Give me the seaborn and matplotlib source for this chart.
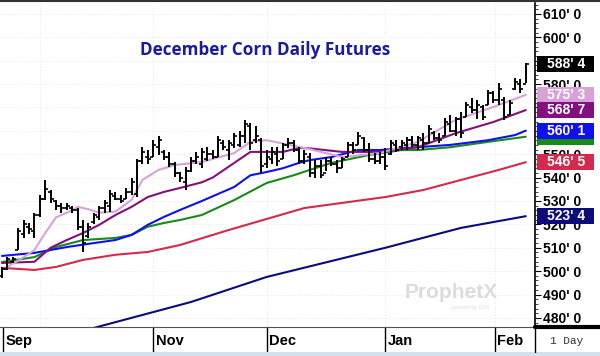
import numpy as np
import pandas as pd
import matplotlib
matplotlib.use("Agg")
import matplotlib.pyplot as plt
import matplotlib.transforms as mtransforms
from matplotlib.patches import Rectangle
from matplotlib.lines import Line2D
from matplotlib.ticker import MultipleLocator
import seaborn as sns

# ---------------- data ----------------
high = [501.8, 506, 506, 518.5, 522, 520.5, 525, 532.5, 539, 534.7,
        530.5, 529, 529, 528, 527, 522, 520.5, 525, 528, 530.5,
        534.7, 534, 532.6, 535.6, 540, 548, 553, 551.8, 556, 558,
        551.8, 551, 546.7, 542.5, 544.6, 549, 551, 552.7, 553, 552,
        558, 556, 556, 559, 560, 564.7, 563.4, 562, 557, 552,
        553, 553, 555, 557, 556, 553, 552, 550.5, 547.5, 547.5,
        549, 549, 547.5, 549, 555.3, 555.3, 559.6, 557.4, 555, 550.5,
        551, 552.7, 556, 556, 556, 557.4, 558, 558, 559, 562.5,
        560, 559, 565.5, 567, 566, 568, 572.4, 574, 573, 571,
        577.5, 577, 580.5, 574.5, 573, 582.6, 582, 589]
low = [497.1, 500.5, 503.5, 509, 514, 516, 514, 523, 530.5, 529,
       526, 525, 526, 525, 517.5, 508, 514, 520, 522, 525,
       525.4, 530.5, 529, 531, 532.6, 531.7, 546, 546, 549, 549.7,
       547.5, 544.6, 540.3, 538, 534.7, 542.5, 546, 544, 547, 548,
       548.7, 552, 547.5, 552.7, 553, 555, 552, 555, 542, 544,
       546, 545, 548, 552.7, 551, 546, 546, 540.3, 540, 540,
       543, 545, 542, 544, 549, 550, 554, 551, 546.7, 546,
       546, 543.3, 549.7, 551, 552, 552, 553, 552, 552, 555,
       556, 555, 558, 559.5, 558, 557, 566, 567.7, 565, 564.7,
       571, 572, 571, 564.7, 567, 577.5, 576, 580.5]
open_ = [498, 501, 504, 509, 516, 519, 517, 524, 531, 534,
         530, 528, 527, 527, 526, 519, 515, 521, 523, 527,
         528, 532, 531, 531, 534, 533, 547, 549, 549, 553,
         551, 549, 546, 542, 538, 543, 547, 546, 548, 550,
         549, 555, 552, 554, 554, 558, 562, 556, 556, 546,
         548, 550, 548, 554, 555, 552, 547, 549, 542, 545,
         542, 547, 546, 544, 549, 554, 554, 557, 552, 548,
         547, 549, 550, 554, 553, 554, 556, 554, 556, 555,
         559, 557, 558, 563, 560, 565, 566, 570, 569, 570,
         571, 576, 573, 573, 567, 578, 580, 580]
close = [501, 505, 505, 517, 520, 518, 524, 531, 535, 531,
         528, 527, 528, 526, 519, 512, 519, 524, 527, 529,
         533, 531, 530, 534, 538, 547, 551, 548, 554, 556,
         549, 546, 542, 540, 543, 547, 549, 551, 550, 549,
         556, 553, 555, 558, 558, 563, 555, 558, 545, 549,
         551, 547, 554, 555, 552, 547, 550, 542, 545, 541,
         547, 546, 544, 548, 554, 552, 558, 552, 548, 547,
         549, 545, 555, 552, 555, 556, 554, 557, 555, 561,
         557, 556, 564, 560, 565, 559, 571, 569, 571, 566,
         576, 573, 578, 566, 572, 581, 578, 588.5]

# moving averages (bar index, value)
ma_pink_idx = [1, 3, 6, 8, 10, 13, 14, 16, 18, 21, 24, 26, 29, 32, 37, 43, 46, 49, 56, 63, 70, 77, 84, 91, 97]
ma_pink = [501.8, 504.5, 509, 516.3, 523, 526, 527.5, 526.5, 525, 525.5, 530.5, 539, 543.3, 545.4, 546.7,
           550.5, 555.3, 556, 552.7, 548.8, 550.5, 555.3, 564.7, 570.2, 575.4]
ma_purple_idx = [0, 6, 9, 12, 15, 18, 21, 24, 27, 30, 33, 37, 39, 43, 46, 52, 55, 57, 63, 70, 77, 84, 91, 97]
ma_purple = [503.5, 504, 510, 513.3, 516.3, 519.8, 524, 527.5, 531.7, 533.9, 535.6, 538, 540, 546.3, 551,
             551, 552.7, 552.5, 551, 551, 553, 559, 563.8, 568.9]
ma_blue_idx = [0, 6, 12, 17, 21, 24, 27, 30, 33, 37, 43, 46, 49, 52, 55, 57, 61, 66, 70, 75, 83, 90, 95, 97]
ma_blue = [506.5, 507.8, 510.3, 512, 513.3, 515.5, 519.8, 523.2, 526.2, 530, 536, 541, 542.4, 544, 546.3,
           547.5, 548.8, 551.8, 551.8, 552.7, 554, 556, 558.2, 560.1]
ma_green_idx = [0, 6, 10, 15, 21, 24, 27, 30, 33, 37, 43, 49, 54, 57, 61, 68, 74, 77, 83, 90, 97]
ma_green = [503.9, 506, 510.3, 513.3, 514.2, 515.5, 519, 520.6, 521.9, 524, 530.4, 537.7, 541, 543.3,
            546.3, 549.7, 551.8, 551.8, 553, 555.3, 557.5]
ma_red_idx = [0, 6, 10, 15, 21, 27, 33, 42, 56, 71, 78, 85, 92, 97]
ma_red = [501.4, 500.5, 501.8, 504.8, 507, 508.2, 511.2, 517.6, 527, 531.7, 534.7, 539, 543.3, 546.6]
ma_navy_idx = [17, 35, 49, 71, 85, 97]
ma_navy = [475.7, 486.8, 497.5, 510, 518.5, 523.5]

last_labels = ["588' 4", "575' 3", "568' 7", "560' 1", "557' 4", "546' 5", "523' 4"]
last_values = [588.5, 575.4, 568.9, 560.1, 557.5, 546.6, 523.5]

month_labels = ["Sep", "Nov", "Dec", "Jan", "Feb"]
month_pos = [0.2, 28, 49, 71, 91.3]
grid_month_pos = [7, 28, 49, 71, 91.3]
ytick_vals = list(range(480, 611, 10))
ytick_labels = [f"{v}' 0" for v in ytick_vals]

# ---------------- style ----------------
sns.set_style("white")
plt.rcParams['font.family'] = ['Liberation Sans', 'DejaVu Sans']

C_PINK = "#d8a2d8"
C_PURPLE = "#82117f"
C_BLUE = "#1010ee"
C_GREEN = "#178a17"
C_RED = "#d42a4c"
C_NAVY = "#0b0b7a"

fig = plt.figure(figsize=(6, 3.56), dpi=100)
ax = fig.add_axes([0, (356 - 327) / 356, 535 / 600, (327 - 3) / 356])
ax.set_xlim(-0.37, 98.7)
ax.set_ylim(476.1, 614.7)

# grid
for v in ytick_vals:
    ax.axhline(v, color="#e6e6e6", lw=0.7, ls=(0, (1, 2)), zorder=0)
for p in grid_month_pos:
    ax.axvline(p, color="#e6e6e6", lw=0.7, ls=(0, (1, 2)), zorder=0)

# moving averages
lines = [
    (ma_navy_idx, ma_navy, C_NAVY),
    (ma_red_idx, ma_red, C_RED),
    (ma_green_idx, ma_green, C_GREEN),
    (ma_blue_idx, ma_blue, C_BLUE),
    (ma_purple_idx, ma_purple, C_PURPLE),
    (ma_pink_idx, ma_pink, C_PINK),
]
for xi, yi, col in lines:
    sns.lineplot(x=xi, y=yi, ax=ax, color=col, lw=1.5, sort=False, estimator=None, zorder=2)

# OHLC bars
idx = np.arange(len(high))
df = pd.DataFrame({"i": idx, "high": high, "low": low, "open": open_, "close": close})
ax.vlines(df["i"], df["low"], df["high"], color="black", lw=1.4, zorder=4)
ax.hlines(df["open"], df["i"] - 0.55, df["i"], color="black", lw=1.2, zorder=4)
ax.hlines(df["close"], df["i"], df["i"] + 0.55, color="black", lw=1.2, zorder=4)

# axes styling
for s in ["left", "top"]:
    ax.spines[s].set_visible(False)
ax.spines["right"].set_color("black")
ax.spines["right"].set_linewidth(1.2)
ax.spines["bottom"].set_color("#555555")
ax.spines["bottom"].set_linewidth(0.8)

ax.yaxis.tick_right()
ax.set_yticks(ytick_vals)
ax.set_yticklabels(ytick_labels)
ax.yaxis.set_minor_locator(MultipleLocator(2))
ax.tick_params(axis="y", which="major", direction="out", length=4, width=0.8, pad=1.5,
               labelsize=10, colors="black")
ax.tick_params(axis="y", which="minor", direction="out", length=2, width=0.6)
for t in ax.get_yticklabels():
    t.set_fontweight("bold")

ax.set_xticks([])
ax.set_xticks(idx, minor=True)
ax.tick_params(axis="x", which="minor", direction="out", length=2.5, width=0.6, color="#555555")
ax.set_xlabel("")
ax.set_ylabel("")

# month separators and labels
bt = mtransforms.blended_transform_factory(ax.transData, ax.transAxes)
sep_bottom = -(352 - 327) / 324
for p, lab in zip(month_pos, month_labels):
    ax.plot([p, p], [0, sep_bottom], transform=bt, color="black", lw=1.0, clip_on=False)
    ax.text(p + 0.45, -0.044, lab, transform=bt, ha="left", va="center",
            fontsize=10.5, fontweight="bold", color="black", clip_on=False)

# last-value boxes on right axis
rt = mtransforms.blended_transform_factory(ax.transAxes, ax.transData)
box_cols = ["#000000", C_PINK, C_PURPLE, C_BLUE, C_GREEN, C_RED, C_NAVY]
order = [4, 0, 1, 2, 3, 5, 6]
for k in order:
    v = last_values[k]
    ax.add_patch(Rectangle((1.004, v - 3.4), 0.107, 6.8, transform=rt, facecolor=box_cols[k],
                           edgecolor="none", clip_on=False, zorder=6))
    if k != 4:
        ax.text(1.0575, v, last_labels[k], transform=rt, ha="center", va="center", color="white",
                fontsize=10, fontweight="bold", clip_on=False, zorder=7)

# title and watermark
ax.text(0.495, 0.855, "December Corn Daily Futures", transform=ax.transAxes, ha="center", va="center",
        fontsize=12.3, fontweight="bold", color="#1b1b9b", family=["Open Sans", "DejaVu Sans"])
ax.text(0.843, 0.107, "ProphetX", transform=ax.transAxes, ha="center", va="center",
        fontsize=15, fontweight="bold", color="#dcdcdc", zorder=1)
ax.text(0.88, 0.06, "powered by DTN", transform=ax.transAxes, ha="center", va="center",
        fontsize=3.5, color="#dcdcdc", zorder=1)

# figure-level frame pieces
fig.add_artist(Line2D([535 / 600, 1], [1 - 327 / 356] * 2, color="black", lw=3))
fig.add_artist(Line2D([535 / 600, 535 / 600], [1 - 352 / 356, 1 - 327 / 356], color="black", lw=1.0))
fig.add_artist(Line2D([0, 1], [1 - 1 / 356] * 2, color="#333333", lw=1.5))
fig.add_artist(Rectangle((0, 0), 1, 4 / 356, transform=fig.transFigure, facecolor="#d4e0ea",
                         edgecolor="none"))
fig.text(567 / 600, 1 - 341 / 356, "1 Day", ha="center", va="center", fontsize=8,
         family=["Liberation Mono", "DejaVu Sans Mono"], color="#333333")

fig.savefig("out.png", dpi=100)
